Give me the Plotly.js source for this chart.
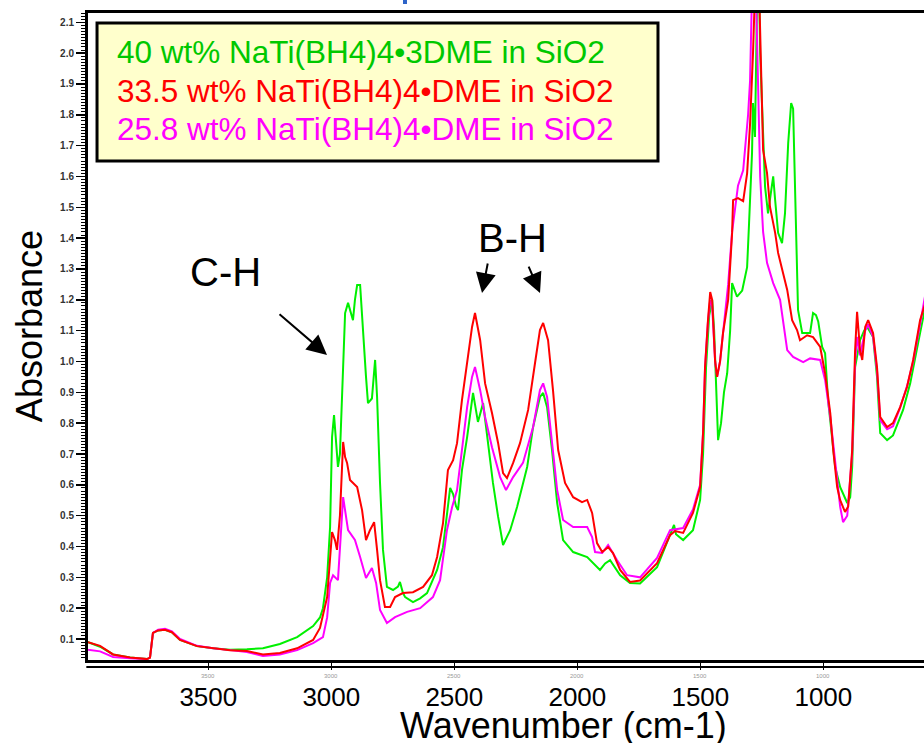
<!DOCTYPE html>
<html>
<head>
<meta charset="utf-8">
<script src="https://cdn.plot.ly/plotly-3.0.1.min.js"></script>
<style>html,body{margin:0;padding:0;background:#fff;overflow:hidden}#chart{width:924px;height:743px}</style>
</head>
<body>
<div id="chart"></div>
<script>
// ---- data ----
const seriesNames = [
  "40 wt% NaTi(BH4)4\u20223DME in SiO2",
  "33.5 wt% NaTi(BH4)4\u2022DME in SiO2",
  "25.8 wt% NaTi(BH4)4\u2022DME in SiO2"
];
const xTickVals = [3500, 3000, 2500, 2000, 1500, 1000];
const xTickText = ["3500", "3000", "2500", "2000", "1500", "1000"];
const xTitle = "Wavenumber (cm-1)";
const yTitle = "Absorbance";
const peakLabels = ["C-H", "B-H"];

const wnGreen = [3995,3989,3940,3887,3818,3749,3737,3725,3704,3676,3648,3615,3546,3481,3412,3343,3278,3209,3139,3074,3046,3034,3017,3005,2997,2989,2981,2973,2965,2952,2944,2932,2924,2912,2904,2895,2883,2871,2859,2851,2835,2822,2814,2802,2790,2774,2749,2729,2721,2709,2700,2668,2639,2611,2570,2546,2530,2517,2505,2493,2485,2469,2448,2424,2404,2383,2363,2343,2322,2302,2273,2245,2204,2180,2152,2139,2123,2103,2082,2058,2017,1960,1908,1887,1867,1826,1786,1745,1676,1623,1607,1599,1570,1530,1501,1489,1477,1464,1452,1444,1436,1428,1416,1404,1391,1379,1371,1351,1330,1310,1302,1290,1286,1278,1269,1261,1257,1245,1237,1225,1212,1204,1196,1184,1168,1156,1143,1131,1123,1119,1111,1103,1086,1054,1042,1030,1021,1005,993,981,952,932,903,891,883,871,851,834,822,798,782,769,741,717,676,647,607,591,585];
const absGreen = [0.092,0.09,0.075,0.05,0.04,0.035,0.04,0.12,0.128,0.13,0.122,0.097,0.077,0.07,0.065,0.067,0.07,0.084,0.106,0.142,0.17,0.2,0.3,0.463,0.755,0.826,0.75,0.658,0.7,0.95,1.157,1.19,1.17,1.134,1.2,1.248,1.248,1.079,0.95,0.865,0.88,1.005,0.885,0.606,0.389,0.269,0.259,0.27,0.285,0.25,0.236,0.22,0.232,0.249,0.324,0.398,0.5,0.59,0.57,0.53,0.518,0.648,0.755,0.898,0.804,0.865,0.735,0.606,0.496,0.405,0.453,0.528,0.658,0.787,0.885,0.898,0.852,0.713,0.541,0.421,0.382,0.366,0.324,0.345,0.356,0.307,0.282,0.28,0.333,0.44,0.47,0.44,0.421,0.453,0.551,0.7,0.98,1.15,1.2,1.1,0.9,0.745,0.8,0.9,0.962,1.1,1.254,1.21,1.23,1.306,1.449,1.676,1.838,1.728,2.2,2.2,2.0,1.7,1.566,1.48,1.55,1.6,1.523,1.417,1.384,1.48,1.708,1.838,1.82,1.676,1.469,1.167,1.092,1.092,1.157,1.15,1.13,1.047,1.027,0.875,0.658,0.593,0.541,0.56,0.658,0.982,1.069,1.1,1.112,1.079,0.95,0.768,0.745,0.76,0.843,0.929,1.092,1.16,1.18];

const wnRed = [3995,3989,3940,3887,3818,3749,3737,3725,3704,3676,3648,3615,3546,3481,3412,3343,3278,3209,3139,3074,3046,3017,3005,2997,2985,2977,2965,2952,2944,2936,2924,2895,2875,2859,2843,2826,2814,2802,2782,2761,2741,2709,2668,2627,2591,2570,2546,2526,2505,2489,2469,2448,2428,2416,2395,2375,2347,2322,2302,2286,2261,2233,2200,2172,2152,2139,2119,2099,2078,2050,2017,1981,1960,1940,1920,1899,1875,1855,1826,1786,1745,1676,1623,1603,1570,1530,1501,1489,1481,1469,1460,1452,1440,1432,1420,1408,1387,1371,1367,1347,1326,1310,1298,1286,1278,1261,1249,1245,1229,1217,1196,1184,1164,1147,1127,1107,1095,1066,1042,1013,993,972,960,944,932,912,899,883,871,863,851,842,830,818,798,782,769,741,717,688,660,635,607,591,585];
const absRed = [0.092,0.09,0.078,0.05,0.04,0.035,0.04,0.12,0.128,0.13,0.122,0.097,0.077,0.07,0.064,0.061,0.05,0.055,0.07,0.097,0.136,0.236,0.38,0.447,0.42,0.389,0.5,0.739,0.69,0.671,0.616,0.593,0.518,0.421,0.453,0.479,0.389,0.291,0.204,0.204,0.236,0.249,0.252,0.269,0.307,0.366,0.476,0.648,0.68,0.735,0.875,1.005,1.112,1.157,1.069,0.929,0.833,0.735,0.638,0.622,0.671,0.735,0.843,0.995,1.102,1.125,1.069,0.907,0.713,0.606,0.56,0.544,0.551,0.509,0.411,0.382,0.398,0.379,0.324,0.285,0.29,0.346,0.437,0.45,0.444,0.509,0.593,0.768,0.982,1.134,1.225,1.2,1.0,0.95,1.0,1.092,1.2,1.417,1.523,1.53,1.52,1.61,1.77,2.0,2.2,2.2,1.838,1.686,1.611,1.501,1.417,1.352,1.287,1.232,1.134,1.102,1.069,1.085,1.079,1.047,0.962,0.833,0.713,0.593,0.551,0.512,0.53,0.713,1.037,1.161,1.037,1.005,1.112,1.134,1.092,0.982,0.82,0.787,0.8,0.852,0.917,1.005,1.134,1.177,1.19];

const wnMagenta = [3995,3989,3940,3887,3818,3749,3737,3725,3704,3676,3648,3615,3546,3481,3412,3343,3278,3209,3139,3074,3034,3017,3005,2993,2973,2961,2952,2932,2904,2883,2859,2835,2818,2802,2774,2741,2692,2639,2587,2558,2530,2509,2489,2469,2448,2428,2416,2395,2375,2347,2314,2290,2261,2221,2180,2152,2139,2123,2103,2082,2058,2017,1960,1940,1928,1899,1875,1839,1798,1745,1676,1623,1570,1530,1501,1489,1481,1469,1460,1452,1440,1432,1420,1408,1387,1371,1359,1347,1326,1318,1306,1298,1290,1274,1265,1257,1245,1229,1204,1176,1147,1123,1082,1054,1013,993,972,952,932,920,903,883,871,863,851,830,818,798,782,769,741,717,688,660,635,607,591,585];
const absMagenta = [0.066,0.065,0.06,0.042,0.038,0.035,0.04,0.12,0.13,0.133,0.125,0.1,0.078,0.07,0.064,0.058,0.045,0.05,0.064,0.087,0.106,0.17,0.282,0.307,0.291,0.45,0.56,0.453,0.421,0.366,0.298,0.33,0.282,0.194,0.152,0.171,0.188,0.2,0.236,0.291,0.453,0.528,0.583,0.713,0.852,0.95,0.982,0.907,0.82,0.722,0.625,0.583,0.625,0.671,0.787,0.907,0.929,0.885,0.745,0.583,0.486,0.463,0.463,0.431,0.382,0.379,0.405,0.356,0.307,0.3,0.363,0.453,0.46,0.52,0.6,0.77,0.98,1.13,1.2,1.18,1.0,0.95,1.0,1.1,1.25,1.42,1.5,1.57,1.62,1.69,1.8,1.91,2.2,2.2,1.85,1.6,1.42,1.32,1.254,1.2,1.037,1.015,0.998,1.01,1.005,0.94,0.82,0.68,0.53,0.479,0.5,0.7,1.0,1.08,1.02,1.1,1.12,1.08,0.97,0.81,0.78,0.79,0.85,0.92,1.0,1.12,1.2,1.22];

// ---- styles ----
const lineColors = ["#00F000", "#FF0000", "#FF00FF"];
const textColors = ["#00C800", "#FF0000", "#FF00FF"];
const FONT = "Arial, 'Liberation Sans', sans-serif";

const traces = [
  {x: wnGreen, y: absGreen, name: seriesNames[0], color: lineColors[0]},
  {x: wnMagenta, y: absMagenta, name: seriesNames[2], color: lineColors[2]},
  {x: wnRed, y: absRed, name: seriesNames[1], color: lineColors[1]}
].map(s => ({
  type: "scatter", mode: "lines", x: s.x, y: s.y, name: s.name,
  line: {color: s.color, width: 2}, hoverinfo: "x+y+name"
}));

const annotations = [];
// legend box text
const legendY = [0.9397, 0.8794, 0.8207];
seriesNames.forEach((n, i) => annotations.push({
  xref: "paper", yref: "paper", x: 0.032, y: legendY[i], xanchor: "left", yanchor: "middle",
  text: n, showarrow: false, font: {family: FONT, size: 31.5, color: textColors[i]}
}));
// peak labels
annotations.push({xref: "paper", yref: "paper", x: 0.165, y: 0.5997, text: peakLabels[0], showarrow: false,
  xanchor: "center", yanchor: "middle", font: {family: FONT, size: 40, color: "#000"}});
annotations.push({xref: "paper", yref: "paper", x: 0.5072, y: 0.6522, text: peakLabels[1], showarrow: false,
  xanchor: "center", yanchor: "middle", font: {family: FONT, size: 40, color: "#000"}});
// arrows
[[0.2859, 0.4714, -49, -42], [0.4713, 0.5672, 6, -31], [0.5407, 0.5672, -12, -28]].forEach(a => annotations.push({
  xref: "paper", yref: "paper", x: a[0], y: a[1], ax: a[2], ay: a[3], text: "", showarrow: true,
  arrowhead: 2, arrowsize: 2, arrowwidth: 2, arrowcolor: "#000", standoff: 0, startstandoff: 0
}));
// axis titles
annotations.push({xref: "paper", yref: "paper", x: 0.569, y: -0.102, text: xTitle, showarrow: false,
  xanchor: "center", yanchor: "middle", font: {family: FONT, size: 36, color: "#000"}});
annotations.push({xref: "paper", yref: "paper", x: -0.0706, y: 0.516, text: yTitle, showarrow: false,
  textangle: -90, xanchor: "center", yanchor: "middle", font: {family: FONT, size: 36, color: "#000"}});
// faint small tick labels
xTickVals.forEach((v, i) => annotations.push({xref: "x", yref: "paper", x: v, y: -0.024, text: xTickText[i],
  showarrow: false, xanchor: "center", yanchor: "middle", font: {family: FONT, size: 6, color: "#999"}}));

const shapes = [
  // legend box
  {type: "rect", xref: "paper", yref: "paper", x0: 0.0108, x1: 0.6818, y0: 0.7713, y1: 0.9845,
   fillcolor: "#FFFFCC", line: {color: "#000", width: 3}, layer: "below"},
  // second bottom rule
  {type: "line", xref: "paper", yref: "paper", x0: -0.002, x1: 1, y0: -0.0108, y1: -0.0108,
   line: {color: "#000", width: 2}},
  // cropped blue title fragment
  {type: "rect", xref: "paper", yref: "paper", x0: 0.3768, x1: 0.3816, y0: 1.0139, y1: 1.03,
   fillcolor: "#2E64C8", line: {width: 0}}
];

const layout = {
  width: 924, height: 743,
  margin: {l: 88, r: 0, t: 13, b: 83, pad: 0},
  paper_bgcolor: "#fff", plot_bgcolor: "#fff",
  showlegend: false,
  font: {family: FONT, color: "#000"},
  xaxis: {
    range: [3989, 591], tickvals: xTickVals, ticktext: xTickText,
    ticks: "outside", ticklen: 7, tickwidth: 1.5, tickcolor: "#000",
    showline: true, linewidth: 3, linecolor: "#000", mirror: true,
    showgrid: false, zeroline: false, ticklabelstandoff: 5,
    tickfont: {family: FONT, size: 26, color: "#000"}
  },
  yaxis: {
    range: [0.032, 2.13], tick0: 0, dtick: 0.1, tickformat: ".1f",
    ticks: "outside", ticklen: 9, tickwidth: 1.5, tickcolor: "#000",
    showline: true, linewidth: 3, linecolor: "#000",
    showgrid: false, zeroline: false,
    minor: {dtick: 0.01, ticks: "outside", ticklen: 4, tickwidth: 1, tickcolor: "#000", showgrid: false},
    tickfont: {family: FONT, size: 10, color: "#333", weight: "bold"}
  },
  annotations: annotations,
  shapes: shapes
};

Plotly.newPlot("chart", traces, layout, {displayModeBar: false, staticPlot: true});
</script>
</body>
</html>
